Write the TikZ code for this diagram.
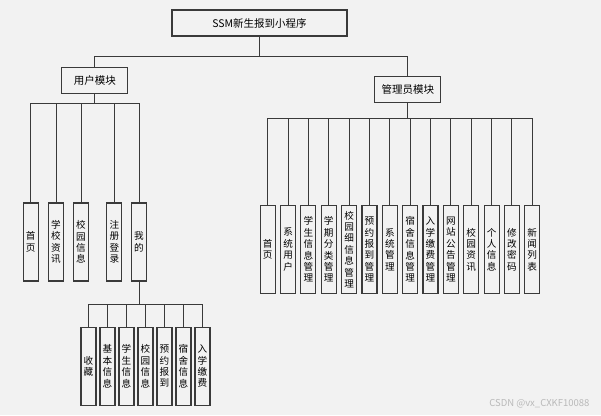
\documentclass[tikz,border=0pt]{standalone}
\usepackage{fontspec}
\setmainfont{Noto Sans CJK SC}
\usetikzlibrary{positioning}
\definecolor{bgcol}{HTML}{F2F2F2}
\definecolor{linecol}{HTML}{3A3A3A}

\tikzset{
  module/.style={draw=linecol, line width=1.1pt, fill=bgcol, inner sep=0pt,
    minimum width=66pt, minimum height=26pt, font=\fontsize{10.5}{12}\selectfont},
  leaf/.style={draw=linecol, line width=1.1pt, fill=bgcol, inner sep=0pt,
    minimum width=15pt, minimum height=78pt, align=center,
    font=\fontsize{9.6}{11.4}\selectfont},
  longleaf/.style={leaf, minimum height=88pt},
  wire/.style={draw=linecol, line width=1pt},
}

\begin{document}
\begin{tikzpicture}[x=1pt, y=-1pt]
	  \fill[bgcol] (0,0) rectangle (601,415);
	  \useasboundingbox (0,0) rectangle (601,415);

	  \node [module, minimum width=175pt] (root) at (259.5,23) {SSM新生报到小程序};
	  \node [module, below left =30pt and 43pt of root] (user) {用户模块};
	  \node [module, below right=39pt and 26.7pt of root] (admin) {管理员模块};

	  % user side
	  \foreach \x/\txt [count=\i] in {30.7/首\\页, 56/学\\校\\资\\讯, 81/校\\园\\信\\息,
	      114.3/注\\册\\登\\录, 139/我\\的}
	    \node [leaf] (u\i) at (\x,242) {\txt};
	  \foreach \txt [count=\i] in {收\\藏, 基\\本\\信\\息, 学\\生\\信\\息, 校\\园\\信\\息,
	      预\\约\\报\\到, 宿\\舍\\信\\息, 入\\学\\缴\\费}
	    \node [leaf] (m\i) at ({88.5+19*(\i-1)},366.3) {\txt};

	  % admin side
	  \foreach \txt [count=\i] in {首\\页, 系\\统\\用\\户, 学\\生\\信\\息\\管\\理,
	      学\\期\\分\\类\\管\\理, 校\\园\\细\\信\\息\\管\\理, 预\\约\\报\\到\\管\\理,
	      系\\统\\管\\理, 宿\\舍\\信\\息\\管\\理, 入\\学\\缴\\费\\管\\理,
	      网\\站\\公\\告\\管\\理, 校\\园\\资\\讯, 个\\人\\信\\息, 修\\改\\密\\码,
	      新\\闻\\列\\表}
	    \node [longleaf] (a\i) at ({267.7+20.35*(\i-1)},249.5) {\txt};

	  \draw [wire] (root.south) -- ++(0,20) -| (user.north);
	  \draw [wire] (root.south) -- ++(0,20) -| (admin.north);
	  \foreach \i in {1,...,5}
	    \draw [wire] (user.south) -- ++(0,10) -| (u\i.north);
	  \foreach \i in {1,...,7}
	    \draw [wire] (u5.south) -- ++(0,23) -| (m\i.north);
	  \foreach \i in {1,...,14}
	    \draw [wire] (admin.south) -- ++(0,15.7) -| (a\i.north);

	  \node [text=gray!55, anchor=east, font=\fontsize{9.5}{11}\selectfont] (mark)
	    at (593,404) {CSDN @vx\_CXKF10088};
	\end{tikzpicture}
\end{document}
